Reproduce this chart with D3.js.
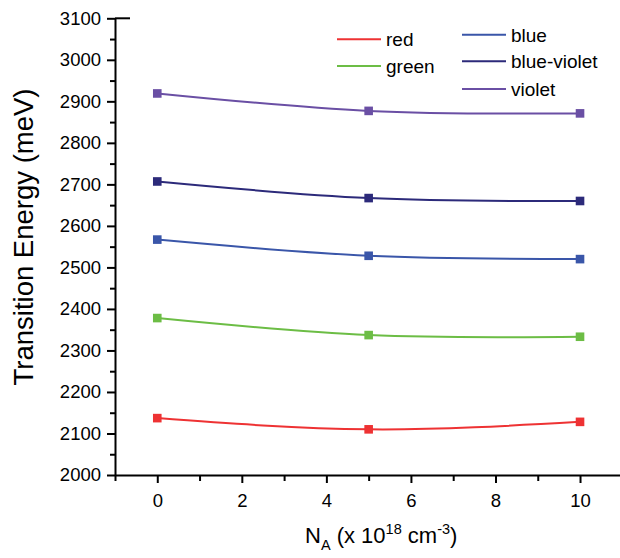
<!DOCTYPE html>
<html><head><meta charset="utf-8">
<script src="https://cdn.jsdelivr.net/npm/d3@7"></script>
<style>
html,body{margin:0;padding:0;background:#fff;}
svg{display:block;font-family:"Liberation Sans",Arial,sans-serif;}
</style></head>
<body><svg id="c" width="620" height="558"></svg>
<script>
const xValues = [0, 5, 10];
const seriesNames = ["red", "green", "blue", "blue-violet", "violet"];
const seriesColors = ["#ee3233", "#6cbd45", "#3a56a9", "#2c2a7a", "#6a4fa4"];
const redValues = [2137, 2110, 2128];
const greenValues = [2378, 2337, 2333];
const blueValues = [2567, 2528, 2520];
const blueVioletValues = [2707, 2667, 2660];
const violetValues = [2919, 2877, 2871];
const allValues = [redValues, greenValues, blueValues, blueVioletValues, violetValues];
const yTickValues = [2000, 2100, 2200, 2300, 2400, 2500, 2600, 2700, 2800, 2900, 3000, 3100];
const xTickValues = [0, 2, 4, 6, 8, 10];

const svg = d3.select("#c");
const x = d3.scaleLinear().domain([-1, 11]).range([115, 622.3]);
const y = d3.scaleLinear().domain([2000, 3100]).range([475, 18.3]);

// Y axis
const yMinor = d3.range(2000, 3101, 50).filter(v => v % 100 !== 0);
svg.append("g").attr("transform", "translate(115,0)")
  .call(d3.axisLeft(y).tickValues(yMinor).tickSize(5).tickFormat(""))
  .call(g => g.select(".domain").remove())
  .call(g => g.selectAll("line").attr("stroke", "#000").attr("stroke-width", 2));
const yAx = svg.append("g").attr("transform", "translate(115,0)")
  .call(d3.axisLeft(y).tickValues(yTickValues).tickSize(8).tickPadding(6).tickSizeOuter(0).tickFormat(d3.format("d")));
yAx.select(".domain").attr("stroke", "#000").attr("stroke-width", 2);
yAx.selectAll("line").attr("stroke", "#000").attr("stroke-width", 2);
yAx.selectAll("text").attr("font-size", 18.5).attr("fill", "#000").attr("font-family", "Liberation Sans, Arial, sans-serif");
// small stub at the top
svg.append("line").attr("x1", 115).attr("x2", 130).attr("y1", y(3100)).attr("y2", y(3100))
  .attr("stroke", "#000").attr("stroke-width", 2);

// X axis
const xMinor = d3.range(-1, 12, 2);
svg.append("g").attr("transform", "translate(0,475)")
  .call(d3.axisBottom(x).tickValues(xMinor).tickSize(6).tickFormat(""))
  .call(g => g.select(".domain").remove())
  .call(g => g.selectAll("line").attr("stroke", "#000").attr("stroke-width", 2));
const xAx = svg.append("g").attr("transform", "translate(0,475)")
  .call(d3.axisBottom(x).tickValues(xTickValues).tickSize(8).tickPadding(11).tickSizeOuter(0).tickFormat(d3.format("d")));
xAx.select(".domain").attr("stroke", "#000").attr("stroke-width", 2);
xAx.selectAll("line").attr("stroke", "#000").attr("stroke-width", 2);
xAx.selectAll("text").attr("font-size", 18.5).attr("fill", "#000").attr("font-family", "Liberation Sans, Arial, sans-serif");

// Series
const line = d3.line().x((d, i) => x(xValues[i])).y(d => y(d)).curve(d3.curveNatural);
allValues.forEach((vals, k) => {
  svg.append("path").attr("d", line(vals)).attr("fill", "none")
    .attr("stroke", seriesColors[k]).attr("stroke-width", 2);
  svg.selectAll(null).data(vals).enter().append("rect")
    .attr("x", (d, i) => x(xValues[i]) - 4.3).attr("y", d => y(d) - 4.3)
    .attr("width", 8.6).attr("height", 8.6).attr("fill", seriesColors[k]);
});

// Legend
const legendPos = [[337, 39.3], [337, 66], [462, 34.7], [462, 61.3], [462, 89]];
seriesNames.forEach((n, k) => {
  const [lx, ly] = legendPos[k];
  svg.append("line").attr("x1", lx).attr("x2", lx + 44).attr("y1", ly).attr("y2", ly)
    .attr("stroke", seriesColors[k]).attr("stroke-width", 2);
  svg.append("text").attr("x", lx + 49).attr("y", ly + 7).attr("font-size", 19)
    .attr("fill", "#000").text(n);
});

// Axis titles
svg.append("text").attr("transform", "translate(33,237) rotate(-90)")
  .attr("text-anchor", "middle").attr("font-size", 27.5).attr("fill", "#000")
  .text("Transition Energy (meV)");
const xt = svg.append("text").attr("x", 305).attr("y", 543).attr("font-size", 22).attr("fill", "#000");
xt.append("tspan").text("N");
xt.append("tspan").attr("font-size", 14.5).attr("dy", 7).text("A");
xt.append("tspan").attr("dy", -7).text(" (x 10");
xt.append("tspan").attr("font-size", 14.5).attr("dy", -9).text("18");
xt.append("tspan").attr("dy", 9).text(" cm");
xt.append("tspan").attr("font-size", 14.5).attr("dy", -9).text("-3");
xt.append("tspan").attr("dy", 9).text(")");
</script></body></html>
